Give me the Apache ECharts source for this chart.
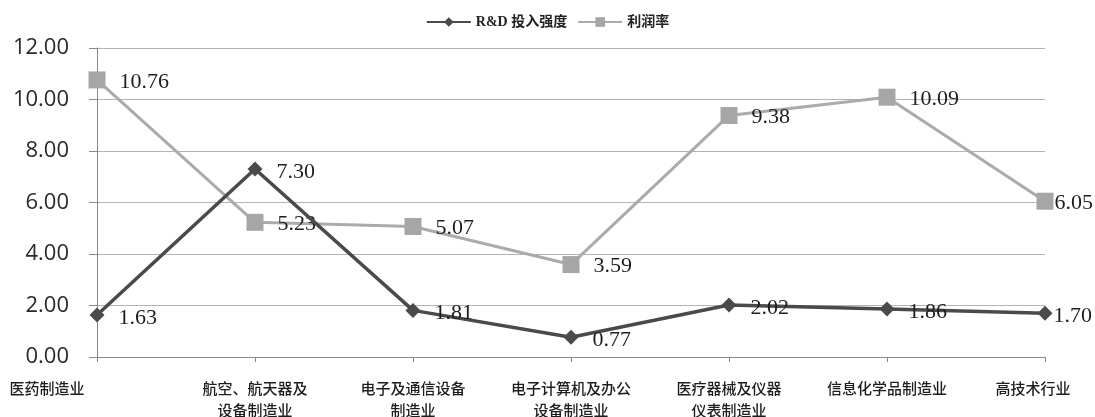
<!DOCTYPE html>
<html>
<head>
<meta charset="utf-8">
<script src="https://cdn.jsdelivr.net/npm/echarts@6/dist/echarts.min.js"></script>
<style>
  html, body { margin: 0; padding: 0; background: #ffffff; }
  #chart { width: 1095px; height: 417px; }
</style>
</head>
<body>
<div id="chart"></div>
<script>
// Industry categories (x axis)
const categories = [
  '医药制造业',
  '航空、航天器及\n设备制造业',
  '电子及通信设备\n制造业',
  '电子计算机及办公\n设备制造业',
  '医疗器械及仪器\n仪表制造业',
  '信息化学品制造业',
  '高技术行业'
];
// R&D intensity (%)
const rdIntensity = [1.63, 7.30, 1.81, 0.77, 2.02, 1.86, 1.70];
// Profit rate (%)
const profitRate = [10.76, 5.23, 5.07, 3.59, 9.38, 10.09, 6.05];
const seriesNames = ['R&D 投入强度', '利润率'];

const chart = echarts.init(document.getElementById('chart'));

const catFont = {
  fontFamily: 'Noto Sans CJK SC, sans-serif',
  fontSize: 15,
  fontWeight: 500,
  lineHeight: 22,
  color: '#1e1e1e'
};

const labelStyle = {
  show: true,
  position: 'right',
  distance: 14,
  fontFamily: 'Liberation Serif, DejaVu Serif, serif',
  fontSize: 22,
  color: '#1e1e1e',
  formatter: p => p.value.toFixed(2)
};

// The right-most point sits at the chart edge, so its label hugs the marker.
const withEdgeLabel = values => values.map((v, i) =>
  i === values.length - 1 ? { value: v, label: { distance: 1 } } : v
);

chart.setOption({
  animation: false,
  backgroundColor: '#ffffff',
  legend: {
    top: 10,
    left: 'center',
    itemWidth: 44,
    itemHeight: 12,
    itemGap: 10,
    textStyle: {
      fontFamily: 'Liberation Serif, Noto Sans CJK SC, serif',
      fontSize: 14,
      fontWeight: 'bold',
      color: '#222'
    },
    data: seriesNames
  },
  grid: {
    left: 97, right: 50, top: 48, bottom: 60,
    containLabel: false,
    outerBoundsMode: 'none'
  },
  xAxis: {
    type: 'category',
    data: categories,
    boundaryGap: false,
    axisLine: { lineStyle: { color: '#888', width: 1 } },
    axisTick: { show: true, alignWithLabel: true, length: 5, lineStyle: { color: '#888' } },
    axisLabel: Object.assign({
      interval: 0,
      margin: 20,
      formatter: (v, i) => {
        if (i === 0) return '{first|' + v + '}';
        if (i === categories.length - 1) return '{last|' + v + '}';
        return v;
      },
      rich: {
        first: Object.assign({}, catFont, { padding: [0, 100, 0, 0] }),
        last: Object.assign({}, catFont, { padding: [0, 24, 0, 0] })
      }
    }, catFont),
    splitLine: { show: false }
  },
  yAxis: {
    type: 'value',
    min: 0,
    max: 12,
    interval: 2,
    axisLine: { show: true, lineStyle: { color: '#888', width: 1 } },
    axisTick: { show: true, length: 8, lineStyle: { color: '#888' } },
    axisLabel: {
      margin: 28,
      fontFamily: 'Open Sans, Lato, sans-serif',
      fontSize: 22,
      color: '#2a2a2a',
      formatter: v => v.toFixed(2)
    },
    splitLine: { show: true, lineStyle: { color: '#b4b4b4', width: 1 } }
  },
  series: [
    {
      name: seriesNames[0],
      type: 'line',
      data: withEdgeLabel(rdIntensity),
      symbol: 'diamond',
      symbolSize: 15,
      z: 3,
      lineStyle: { color: '#4a4a4a', width: 3.5 },
      itemStyle: { color: '#4a4a4a' },
      label: Object.assign({}, labelStyle, { offset: [0, 3] })
    },
    {
      name: seriesNames[1],
      type: 'line',
      data: withEdgeLabel(profitRate),
      symbol: 'rect',
      symbolSize: 17,
      z: 2,
      lineStyle: { color: '#ababab', width: 3 },
      itemStyle: { color: '#a6a6a6' },
      label: Object.assign({}, labelStyle, { offset: [0, 2] })
    }
  ]
});
</script>
</body>
</html>
